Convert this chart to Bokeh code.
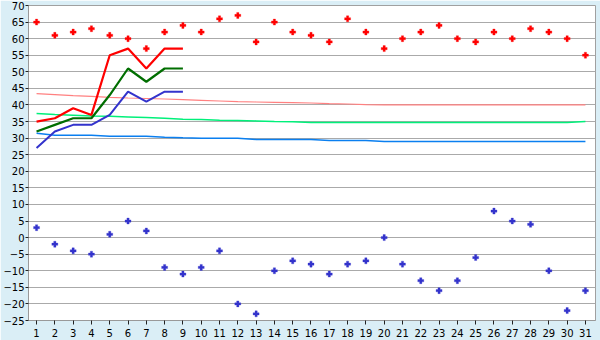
from bokeh.plotting import figure
from bokeh.models import Range1d, FixedTicker
from bokeh.embed import file_html
from bokeh.resources import INLINE

days = list(range(1, 32))
highs = [65, 61, 62, 63, 61, 60, 57, 62, 64, 62, 66, 67, 59, 65, 62, 61, 59, 66, 62, 57,
         60, 62, 64, 60, 59, 62, 60, 63, 62, 60, 55]
lows = [3, -2, -4, -5, 1, 5, 2, -9, -11, -9, -4, -20, -23, -10, -7, -8, -11, -8, -7, 0,
        -8, -13, -16, -13, -6, 8, 5, 4, -10, -22, -16]

line_days = list(range(1, 10))
red_line = [35, 36, 39, 37, 55, 57, 51, 57, 57]
green_line = [32, 34, 36, 36, 43, 51, 47, 51, 51]
blue_line = [27, 32, 34, 34, 37, 44, 41, 44, 44]

normal_high = [43.4, 43.1, 42.8, 42.6, 42.3, 42.1, 41.95, 41.8, 41.6, 41.4, 41.2, 41.0, 40.9,
               40.8, 40.7, 40.6, 40.4, 40.3, 40.1, 40.0, 40.0, 40.0, 40.0, 40.0, 40.0, 40.0,
               40.0, 40.0, 40.0, 40.0, 40.0]
normal_mid = [37.4, 37.1, 36.9, 36.7, 36.6, 36.4, 36.2, 36.0, 35.7, 35.6, 35.4, 35.3, 35.2,
              35.05, 34.95, 34.7, 34.7, 34.7, 34.7, 34.7, 34.7, 34.7, 34.7, 34.7, 34.7, 34.7,
              34.7, 34.7, 34.7, 34.7, 35.0]
normal_low = [31.5, 30.9, 30.9, 30.85, 30.6, 30.6, 30.55, 30.25, 30.1, 30.0, 30.0, 30.0, 29.6,
              29.55, 29.55, 29.55, 29.25, 29.25, 29.25, 28.95, 28.95, 28.95, 28.95, 28.95, 28.95,
              28.95, 28.95, 28.95, 28.95, 28.95, 28.95]

y_ticks = list(range(-25, 75, 5))

p = figure(width=600, height=340, output_backend="svg", toolbar_location=None,
           x_range=Range1d(0.56, 31.55), y_range=Range1d(-25, 70),
           min_border_left=27, min_border_right=5, min_border_top=5, min_border_bottom=20)

p.border_fill_color = "#daeef6"
p.background_fill_color = "white"
p.outline_line_color = "#a0a0a0"
p.outline_line_width = 1

p.xgrid.visible = False
p.ygrid.ticker = FixedTicker(ticks=y_ticks)
p.ygrid.grid_line_color = "#aaaaaa"
p.ygrid.grid_line_width = 1

for ax in (p.xaxis[0], p.yaxis[0]):
    ax.axis_line_color = "#999999"
    ax.major_tick_line_color = "#222222"
    ax.minor_tick_line_color = None
    ax.major_tick_in = 0
    ax.major_label_text_font = "DejaVu Sans"
    ax.major_label_text_font_size = "10px"
    ax.major_label_text_color = "black"

p.xaxis.ticker = FixedTicker(ticks=days)
p.xaxis.major_tick_out = 4
p.xaxis.major_label_standoff = 4
p.yaxis.ticker = FixedTicker(ticks=y_ticks)
p.yaxis.major_tick_out = 3
p.yaxis.major_label_standoff = 1

# thin normals
p.line(days, normal_high, line_color="#ff8080", line_width=1.2)
p.line(days, normal_mid, line_color="#00f07a", line_width=1.5)
p.line(days, normal_low, line_color="#0a7ff0", line_width=1.5)

# thick lines
p.line(line_days, red_line, line_color="#ff0000", line_width=2.2)
p.line(line_days, green_line, line_color="#006e00", line_width=2.2)
p.line(line_days, blue_line, line_color="#3333cc", line_width=2)

# markers
p.scatter(days, highs, marker="plus", size=6, fill_color="#ff0000", line_color="#ff0000", line_width=0.3)
p.scatter(days, lows, marker="plus", size=6, fill_color="#3333cc", line_color="#3333cc", line_width=0.3)

open("out.html", "w").write(file_html(p, INLINE))
